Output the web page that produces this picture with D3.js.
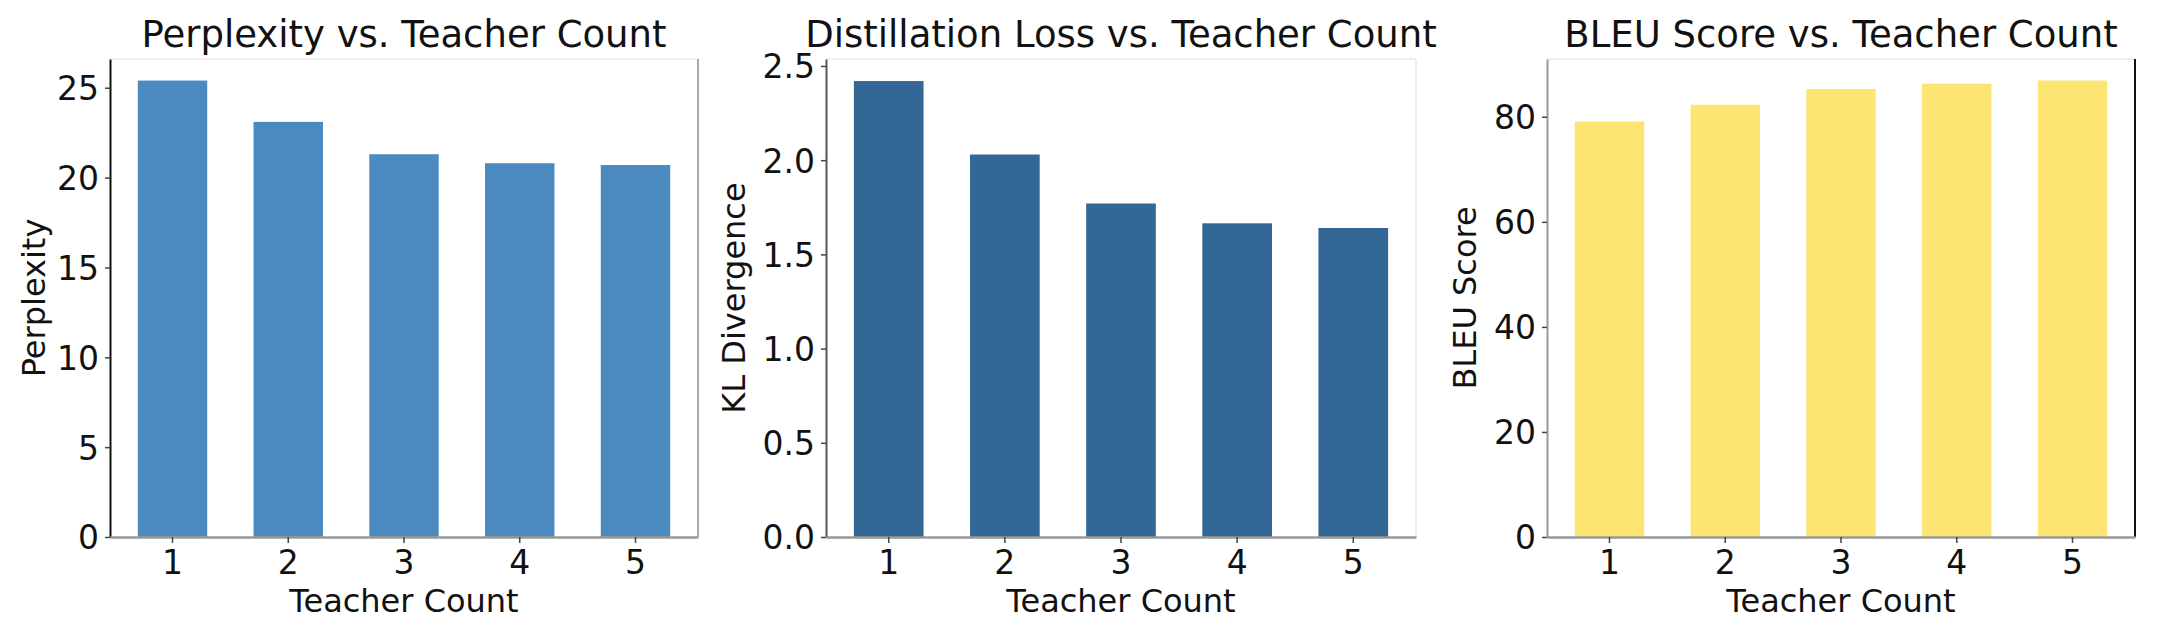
<!DOCTYPE html>
<html>
<head>
<meta charset="utf-8">
<script src="https://cdn.jsdelivr.net/npm/d3@7"></script>
<style>
  body { margin: 0; background: #fff; }
  svg text { font-family: "DejaVu Sans", sans-serif; fill: #111; }
</style>
</head>
<body>
<svg id="chart" width="2165" height="642"></svg>
<script>
const teacherCounts = ["1", "2", "3", "4", "5"];
const perplexity = [25.4, 23.1, 21.3, 20.8, 20.7];
const klDivergence = [2.42, 2.03, 1.77, 1.665, 1.64];
const bleuScore = [79.1, 82.3, 85.3, 86.3, 86.9];

const perplexityTicks = [0, 5, 10, 15, 20, 25];
const klTicks = [0, 0.5, 1.0, 1.5, 2.0, 2.5];
const bleuTicks = [0, 20, 40, 60, 80];

const panels = [
    { title: "Perplexity vs. Teacher Count", ylabel: "Perplexity", values: perplexity,
      ticks: perplexityTicks, fmt: d3.format("d"), ymax: 26.6, color: "#4b8abe",
      left: 110, right: 698, ylabelX: 33,
      spines: { left: "#111", right: "#aaa", top: "#eee", bottom: "#999" } },
    { title: "Distillation Loss vs. Teacher Count", ylabel: "KL Divergence", values: klDivergence,
      ticks: klTicks, fmt: d3.format(".1f"), ymax: 2.537, color: "#336796",
      left: 826, right: 1416, ylabelX: 733,
      spines: { left: "#555", right: "#eee", top: "#eee", bottom: "#999" } },
    { title: "BLEU Score vs. Teacher Count", ylabel: "BLEU Score", values: bleuScore,
      ticks: bleuTicks, fmt: d3.format("d"), ymax: 91, color: "#fde574",
      left: 1547, right: 2135, ylabelX: 1464,
      spines: { left: "#999", right: "#111", top: "#eee", bottom: "#999" } }
];

const svg = d3.select("#chart");
const plotTop = 59, plotBottom = 537;

panels.forEach(p => {
    const g = svg.append("g");

    const x = d3.scaleBand()
        .domain(teacherCounts)
        .range([p.left, p.right])
        .paddingInner(0.4)
        .paddingOuter(0.24);

    const y = d3.scaleLinear()
        .domain([0, p.ymax])
        .range([plotBottom, plotTop]);

    g.selectAll("rect.bar")
        .data(p.values)
        .enter()
        .append("rect")
        .attr("class", "bar")
        .attr("x", (d, i) => x(teacherCounts[i]))
        .attr("y", d => y(d))
        .attr("width", x.bandwidth())
        .attr("height", d => y(0) - y(d))
        .attr("fill", p.color);

    // spines
    g.append("line").attr("x1", p.left).attr("x2", p.right).attr("y1", plotTop).attr("y2", plotTop)
        .attr("stroke", p.spines.top).attr("stroke-width", 2);
    g.append("line").attr("x1", p.right).attr("x2", p.right).attr("y1", plotTop).attr("y2", plotBottom)
        .attr("stroke", p.spines.right).attr("stroke-width", 2);

    const yAxis = g.append("g")
        .attr("transform", `translate(${p.left},0)`)
        .call(d3.axisLeft(y).tickValues(p.ticks).tickFormat(p.fmt).tickSize(5).tickPadding(6).tickSizeOuter(0));
    yAxis.select(".domain").attr("stroke", p.spines.left).attr("stroke-width", 2);
    yAxis.selectAll(".tick line").attr("stroke", "#444").attr("stroke-width", 1.5);
    yAxis.selectAll("text").style("font-size", "33px").attr("dy", "0.36em");

    const xAxis = g.append("g")
        .attr("transform", `translate(0,${plotBottom})`)
        .call(d3.axisBottom(x).tickSize(6).tickPadding(6).tickSizeOuter(0));
    xAxis.select(".domain").attr("stroke", p.spines.bottom).attr("stroke-width", 2.5);
    xAxis.selectAll(".tick line").attr("stroke", "#444").attr("stroke-width", 1.5);
    xAxis.selectAll("text").style("font-size", "33px").attr("dy", "0.75em");

    const cx = (p.left + p.right) / 2;
    g.append("text")
        .attr("x", cx).attr("y", 47)
        .attr("text-anchor", "middle")
        .style("font-size", "37px")
        .text(p.title);

    g.append("text")
        .attr("x", cx).attr("y", 612)
        .attr("text-anchor", "middle")
        .style("font-size", "32px")
        .text("Teacher Count");

    g.append("text")
        .attr("transform", `translate(${p.ylabelX},${(plotTop + plotBottom) / 2}) rotate(-90)`)
        .attr("text-anchor", "middle")
        .attr("dy", "0.36em")
        .style("font-size", "32px")
        .text(p.ylabel);
});
</script>
</body>
</html>
